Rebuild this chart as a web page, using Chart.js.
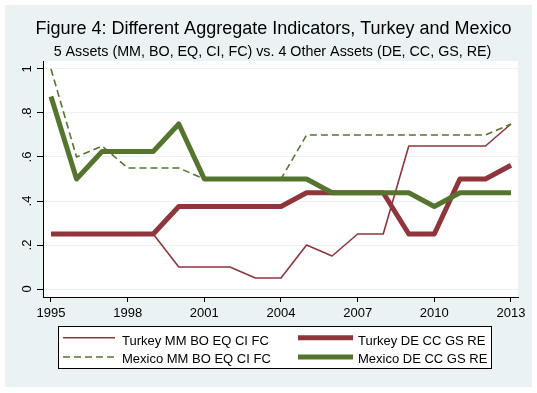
<!DOCTYPE html>
<html>
<head>
<meta charset="utf-8">
<script src="https://cdn.jsdelivr.net/npm/chart.js@4.4.0/dist/chart.umd.min.js"></script>
<style>
  html, body { margin: 0; padding: 0; background: #fff; }
  #wrap { width: 537px; height: 393px; }
</style>
</head>
<body>
<div id="wrap"><canvas id="grafico" width="537" height="393"></canvas></div>
<script>
// Datos
const years = [1995,1996,1997,1998,1999,2000,2001,2002,2003,2004,2005,2006,2007,2008,2009,2010,2011,2012,2013];
const turkeyMM = [0.25,0.25,0.25,0.25,0.25,0.10,0.10,0.10,0.05,0.05,0.20,0.15,0.25,0.25,0.65,0.65,0.65,0.65,0.75];
const turkeyDE = [0.25,0.25,0.25,0.25,0.25,0.375,0.375,0.375,0.375,0.375,0.4375,0.4375,0.4375,0.4375,0.25,0.25,0.5,0.5,0.5625];
const mexicoMM = [1.0,0.6,0.65,0.55,0.55,0.55,0.5,0.5,0.5,0.5,0.7,0.7,0.7,0.7,0.7,0.7,0.7,0.7,0.75];
const mexicoDE = [0.875,0.5,0.625,0.625,0.625,0.75,0.5,0.5,0.5,0.5,0.5,0.4375,0.4375,0.4375,0.4375,0.375,0.4375,0.4375,0.4375];
const seriesNames = ['Turkey MM BO EQ CI FC', 'Turkey DE CC GS RE', 'Mexico MM BO EQ CI FC', 'Mexico DE CC GS RE'];
const xTicks = [1995,1998,2001,2004,2007,2010,2013];
const yTicks = [0,0.2,0.4,0.6,0.8,1];
const yTickLabels = ['0','.2','.4','.6','.8','1'];
const titleText = 'Figure 4: Different Aggregate Indicators, Turkey and Mexico';
const subtitleText = '5 Assets (MM, BO, EQ, CI, FC) vs. 4 Other Assets (DE, CC, GS, RE)';

const fuente = "'Liberation Sans', Arial, sans-serif";
const granate = '#90353B';
const verde = '#55752F';
const fondo = '#EAF2F3';

Chart.defaults.font.family = fuente;

const puntos = (vals) => years.map((yr, i) => ({ x: yr, y: vals[i] }));

// Fondo, titulos, etiquetas del eje y y leyenda al estilo Stata
const estiloStata = {
    id: 'estiloStata',
    beforeDraw(chart) {
        const ctx = chart.ctx;
        const a = chart.chartArea;
        ctx.save();
        ctx.fillStyle = '#fff';
        ctx.fillRect(0, 0, chart.width, chart.height);
        ctx.fillStyle = fondo;
        ctx.fillRect(5, 5, 527, 382);
        ctx.fillStyle = '#fff';
        ctx.fillRect(a.left, a.top, a.right - a.left, a.bottom - a.top);
        ctx.restore();
    },
    afterDraw(chart) {
        const ctx = chart.ctx;
        ctx.save();
        ctx.fillStyle = '#000';
        ctx.textAlign = 'center';
        ctx.textBaseline = 'alphabetic';

        // titulos
        ctx.font = '18px ' + fuente;
        ctx.fillText(titleText, 273.5, 33.5);
        ctx.font = '14.3px ' + fuente;
        ctx.fillText(subtitleText, 272.5, 55.5);

        // etiquetas del eje y (verticales)
        const ys = chart.scales.y;
        ctx.font = '13px ' + fuente;
        ys.ticks.forEach((t, i) => {
            const py = ys.getPixelForValue(t.value);
            ctx.save();
            ctx.translate(30.5, py);
            ctx.rotate(-Math.PI / 2);
            ctx.fillText(yTickLabels[i], 0, 0);
            ctx.restore();
        });

        // leyenda
        ctx.fillStyle = '#fff';
        ctx.fillRect(58.5, 326.5, 433, 42);
        ctx.strokeStyle = '#000';
        ctx.lineWidth = 1;
        ctx.strokeRect(58.5, 326.5, 433, 42);

        const cols = [[63, 115, 122], [298, 353, 358]];
        const filas = [[337.7, 344.6], [357, 362.7]];
        chart.data.datasets.forEach((ds, i) => {
            const c = cols[i % 2];
            const f = filas[Math.floor(i / 2)];
            ctx.beginPath();
            ctx.strokeStyle = ds.borderColor;
            ctx.lineWidth = ds.borderWidth;
            ctx.setLineDash(ds.borderDash || []);
            ctx.moveTo(c[0], f[0]);
            ctx.lineTo(c[1], f[0]);
            ctx.stroke();
            ctx.setLineDash([]);
            ctx.fillStyle = '#000';
            ctx.textAlign = 'left';
            ctx.font = '13px ' + fuente;
            ctx.fillText(ds.label, c[2], f[1]);
        });
        ctx.restore();
    }
};

const ctx = document.getElementById('grafico').getContext('2d');
new Chart(ctx, {
    type: 'line',
    data: {
        datasets: [
            { label: seriesNames[0], data: puntos(turkeyMM), borderColor: granate, borderWidth: 1.6, order: 4 },
            { label: seriesNames[1], data: puntos(turkeyDE), borderColor: granate, borderWidth: 5, order: 3 },
            { label: seriesNames[2], data: puntos(mexicoMM), borderColor: verde, borderWidth: 1.6, borderDash: [7, 4], order: 2 },
            { label: seriesNames[3], data: puntos(mexicoDE), borderColor: verde, borderWidth: 5, order: 1 }
        ]
    },
    options: {
        responsive: false,
        animation: false,
        layout: { padding: { top: 61, left: 0, right: 19, bottom: 0 } },
        elements: {
            point: { radius: 0, hoverRadius: 0 },
            line: { tension: 0, fill: false, borderJoinStyle: 'round', borderCapStyle: 'butt' }
        },
        plugins: {
            legend: { display: false },
            title: { display: false },
            tooltip: { enabled: false }
        },
        scales: {
            x: {
                type: 'linear',
                min: 1994.687,
                max: 2013.274,
                afterBuildTicks: (scale) => { scale.ticks = xTicks.map(v => ({ value: v })); },
                afterFit: (scale) => { scale.height = 96; },
                ticks: {
                    color: '#000',
                    font: { size: 13 },
                    padding: 4,
                    maxRotation: 0,
                    autoSkip: false,
                    callback: (v) => String(v)
                },
                grid: { drawOnChartArea: false, drawTicks: true, tickLength: 5, tickColor: '#000' },
                border: { color: '#000', width: 1 }
            },
            y: {
                type: 'linear',
                min: -0.03636,
                max: 1.03636,
                afterBuildTicks: (scale) => { scale.ticks = yTicks.map(v => ({ value: v })); },
                afterFit: (scale) => { scale.width = 43; },
                ticks: { display: false },
                grid: { color: fondo, lineWidth: 1, drawTicks: true, tickLength: 6, tickColor: '#000' },
                border: { color: '#000', width: 1 }
            }
        }
    },
    plugins: [estiloStata]
});
</script>
</body>
</html>
